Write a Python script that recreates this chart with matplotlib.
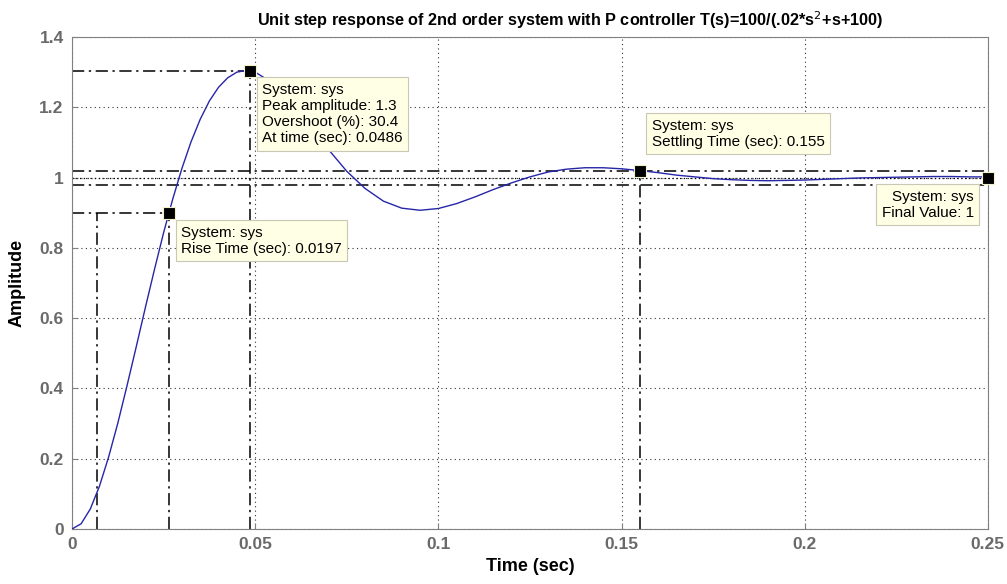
import matplotlib
matplotlib.use("Agg")
from matplotlib import pyplot as plt

# step response
t = [0, 0.0025, 0.005, 0.0075, 0.01, 0.0125, 0.015, 0.0175, 0.02, 0.0225,
     0.025, 0.0275, 0.03, 0.0325, 0.035, 0.0375, 0.04, 0.0425, 0.045, 0.0475,
     0.05, 0.055, 0.06, 0.065, 0.07, 0.075, 0.08, 0.085, 0.09, 0.095,
     0.1, 0.105, 0.11, 0.115, 0.12, 0.125, 0.13, 0.135, 0.14, 0.145,
     0.15, 0.155, 0.16, 0.165, 0.17, 0.175, 0.18, 0.185, 0.19, 0.195,
     0.2, 0.205, 0.21, 0.215, 0.22, 0.225, 0.23, 0.235, 0.24, 0.245, 0.25]
amp = [0, 0.015, 0.057, 0.122, 0.205, 0.301, 0.407, 0.517, 0.629, 0.738,
       0.843, 0.939, 1.026, 1.102, 1.166, 1.218, 1.257, 1.284, 1.300, 1.305,
       1.300, 1.268, 1.213, 1.147, 1.080, 1.018, 0.969, 0.933, 0.913, 0.907,
       0.912, 0.926, 0.945, 0.966, 0.985, 1.002, 1.016, 1.024, 1.028, 1.028,
       1.025, 1.020, 1.014, 1.007, 1.002, 0.997, 0.994, 0.992, 0.991, 0.992,
       0.993, 0.995, 0.997, 0.999, 1.000, 1.001, 1.002, 1.003, 1.003, 1.002, 1.002]

xticks = [0, 0.05, 0.1, 0.15, 0.2, 0.25]
xticklabels = ["0", "0.05", "0.1", "0.15", "0.2", "0.25"]
yticks = [0, 0.2, 0.4, 0.6, 0.8, 1, 1.2, 1.4]
yticklabels = ["0", "0.2", "0.4", "0.6", "0.8", "1", "1.2", "1.4"]

# characteristics (data tips)
t_rise_lo, t_rise_hi, rise_time = 0.0068, 0.0265, 0.0197
peak_t, peak_amp, overshoot = 0.0486, 1.304, 30.4
settle_t, settle_amp = 0.155, 1.02
settle_band = [0.98, 1.02]
final_t, final_value = 0.25, 1.0

fig = plt.figure(figsize=(10.07, 5.84), dpi=100)
ax = fig.add_axes([0.0715, 0.0942, 0.9095, 0.8424])

DASHDOT = (0, (8, 3, 1.5, 3))
ckw = dict(color="black", lw=1.1, linestyle=DASHDOT, zorder=2)

# settling band + final value
for lvl in settle_band:
    ax.plot([0, 0.25], [lvl, lvl], **ckw)
ax.plot([0, 0.25], [final_value, final_value], color="black", lw=0.9,
        linestyle=(0, (1, 2)), zorder=2)

# rise time
ax.plot([0, t_rise_hi], [0.9, 0.9], **ckw)
ax.plot([t_rise_lo, t_rise_lo], [0, 0.9], **ckw)
ax.plot([t_rise_hi, t_rise_hi], [0, 0.9], **ckw)
# peak
ax.plot([0, peak_t], [peak_amp, peak_amp], **ckw)
ax.plot([peak_t, peak_t], [0, peak_amp], **ckw)
# settling
ax.plot([settle_t, settle_t], [0, settle_amp], **ckw)

ax.plot(t, amp, color="#2626a8", lw=1.0, zorder=3)

mkw = dict(marker="s", color="black", markersize=8, markeredgecolor="#f4f0c8",
           markeredgewidth=0.8, linestyle="none", zorder=6, clip_on=False)
ax.plot([t_rise_hi], [0.9], **mkw)
ax.plot([peak_t], [peak_amp], **mkw)
ax.plot([settle_t], [settle_amp], **mkw)
ax.plot([final_t], [final_value], **mkw)

tip = dict(textcoords="offset pixels", fontsize=11, family="Liberation Sans",
           va="top", zorder=7, annotation_clip=False,
           bbox=dict(boxstyle="square,pad=0.35", fc="#ffffe6", ec="#c8c8b4", lw=0.8))
ax.annotate("System: sys\nPeak amplitude: %.1f\nOvershoot (%%): %.1f\nAt time (sec): %s"
            % (peak_amp, overshoot, peak_t), xy=(peak_t, peak_amp), xytext=(12, -12),
            ha="left", **tip)
ax.annotate("System: sys\nRise Time (sec): %s" % rise_time, xy=(t_rise_hi, 0.9),
            xytext=(12, -13), ha="left", **tip)
ax.annotate("System: sys\nSettling Time (sec): %s" % settle_t, xy=(settle_t, settle_amp),
            xytext=(12, 52), ha="left", **tip)
ax.annotate("System: sys\nFinal Value: %g" % final_value, xy=(final_t, final_value),
            xytext=(-14, -12), ha="right", multialignment="right", **tip)

ax.set_xlim(0, 0.25)
ax.set_ylim(0, 1.4)
ax.set_xticks(xticks)
ax.set_xticklabels(xticklabels)
ax.set_yticks(yticks)
ax.set_yticklabels(yticklabels)
ax.grid(True, color="#333333", linestyle=(0, (1, 3)), lw=0.8)
ax.tick_params(direction="in", length=4, color="#808080", pad=6)
for lab in ax.get_xticklabels() + ax.get_yticklabels():
    lab.set_fontfamily("Liberation Sans")
    lab.set_fontweight("bold")
    lab.set_fontsize(12.5)
    lab.set_color("#6a6a6a")
for sp in ax.spines.values():
    sp.set_color("#808080")

ax.set_xlabel("Time (sec)", fontsize=13, fontweight="bold", family="Liberation Sans", labelpad=4)
ax.set_ylabel("Amplitude", fontsize=13, fontweight="bold", family="Liberation Sans", labelpad=10)
ax.set_title("Unit step response of 2nd order system with P controller T(s)=100/(.02*s$^2$+s+100)",
             fontsize=11.7, fontweight="bold", family="Liberation Sans",
             x=0.544, pad=8)

fig.savefig("out.png", dpi=100)
